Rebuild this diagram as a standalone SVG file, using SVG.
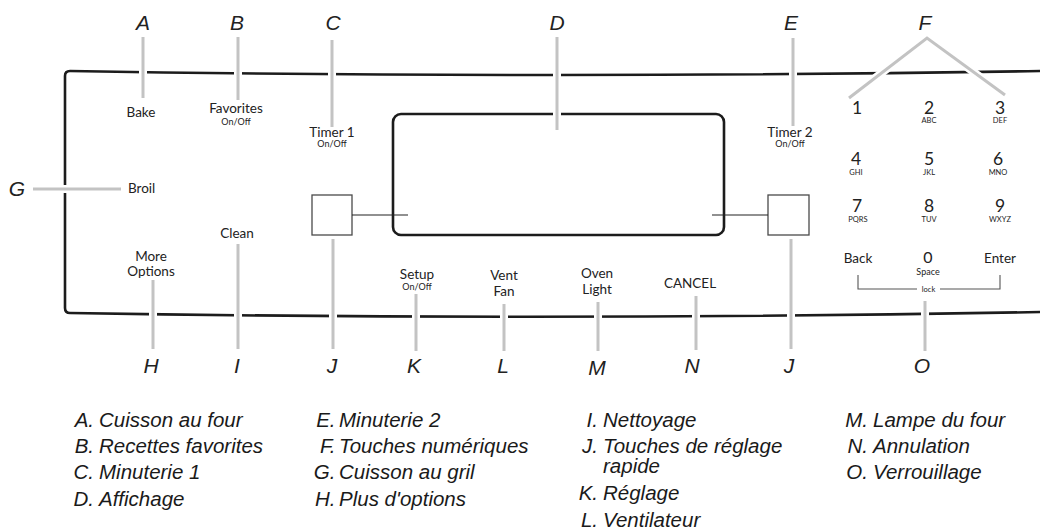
<svg xmlns="http://www.w3.org/2000/svg" width="1040" height="529" viewBox="0 0 1040 529">
<style>
.frame{fill:none;stroke:#1c1c1c;stroke-width:2.6;stroke-linejoin:round}
.sq{fill:#fff;stroke:#4a4a4a;stroke-width:1.3}
.thin{fill:none;stroke:#222;stroke-width:1.1}
.brk{fill:none;stroke:#555;stroke-width:1.1}
.halo{stroke:#fff;stroke-width:8;fill:none}
.ld{stroke:#c3c3c3;stroke-width:3;fill:none}
.lbl{font-family:"Liberation Sans",Arial,sans-serif;font-style:italic;font-size:21px;fill:#222;text-anchor:middle}
.key{font-family:Lato,"Open Sans",sans-serif;font-size:13.5px;fill:#222;text-anchor:middle}
.sub{font-size:9px}
.dig{font-size:17.5px}
.zero{font-size:16px}
.tiny{font-size:7.5px}
.leg{font-family:"Liberation Sans",Arial,sans-serif;font-style:italic;font-size:20.5px;fill:#1a1a1a}
.le{text-anchor:end}
</style>
<g id="panel">
<path class="frame" d="M1040,71 Q557,79 70,71 Q65,71 65,76 L65,308 Q65,313 70,313 Q557,321 1040,312"/>
</g>
<g id="display">
<rect class="frame" x="393" y="114" width="331" height="121" rx="8"/>
</g>
<g id="quick-left">
<rect class="sq" x="312" y="195" width="40" height="40"/>
<line class="thin" x1="352" y1="215" x2="408" y2="215"/>
</g>
<g id="quick-right">
<rect class="sq" x="768" y="195" width="41" height="40"/>
<line class="thin" x1="712" y1="215" x2="768" y2="215"/>
</g>
<g id="connectors">
<g>
<line class="halo" x1="143" y1="37" x2="143" y2="98"/>
<line class="halo" x1="238" y1="37" x2="238" y2="100"/>
<line class="halo" x1="332" y1="40" x2="332" y2="127"/>
<line class="halo" x1="557" y1="37" x2="557" y2="130"/>
<line class="halo" x1="793" y1="38" x2="793" y2="126"/>
<polyline class="halo" points="849,98 927,38 1005,95"/>
<line class="halo" x1="33" y1="189" x2="121" y2="189"/>
<line class="halo" x1="153" y1="280" x2="153" y2="349"/>
<line class="halo" x1="238" y1="244" x2="238" y2="349"/>
<line class="halo" x1="333" y1="239" x2="333" y2="349"/>
<line class="halo" x1="416" y1="294" x2="416" y2="351"/>
<line class="halo" x1="504" y1="304" x2="504" y2="351"/>
<line class="halo" x1="598" y1="302" x2="598" y2="351"/>
<line class="halo" x1="696" y1="296" x2="696" y2="350"/>
<line class="halo" x1="791" y1="239" x2="791" y2="349"/>
<line class="halo" x1="925" y1="301" x2="925" y2="351"/>
</g>
<line class="ld" x1="143" y1="37" x2="143" y2="98"/>
<line class="ld" x1="238" y1="37" x2="238" y2="100"/>
<line class="ld" x1="332" y1="40" x2="332" y2="127"/>
<line class="ld" x1="557" y1="37" x2="557" y2="130"/>
<line class="ld" x1="793" y1="38" x2="793" y2="126"/>
<polyline class="ld" points="849,98 927,38 1005,95"/>
<line class="ld" x1="33" y1="189" x2="121" y2="189"/>
<line class="ld" x1="153" y1="280" x2="153" y2="349"/>
<line class="ld" x1="238" y1="244" x2="238" y2="349"/>
<line class="ld" x1="333" y1="239" x2="333" y2="349"/>
<line class="ld" x1="416" y1="294" x2="416" y2="351"/>
<line class="ld" x1="504" y1="304" x2="504" y2="351"/>
<line class="ld" x1="598" y1="302" x2="598" y2="351"/>
<line class="ld" x1="696" y1="296" x2="696" y2="350"/>
<line class="ld" x1="791" y1="239" x2="791" y2="349"/>
<line class="ld" x1="925" y1="301" x2="925" y2="351"/>
</g>
<g id="keys">
<text class="key" x="141" y="117">Bake</text>
<text class="key" x="236" y="113">Favorites</text>
<text class="key sub" x="236" y="124.5">On/Off</text>
<text class="key" x="332" y="136.5">Timer 1</text>
<text class="key sub" x="332" y="147">On/Off</text>
<text class="key" x="790" y="136.5">Timer 2</text>
<text class="key sub" x="790" y="147">On/Off</text>
<text class="key" x="128" y="193" style="text-anchor:start">Broil</text>
<text class="key" x="237" y="238">Clean</text>
<text class="key" x="151" y="261">More</text>
<text class="key" x="151" y="276">Options</text>
<text class="key" x="417" y="279">Setup</text>
<text class="key sub" x="417" y="290">On/Off</text>
<text class="key" x="504" y="280">Vent</text>
<text class="key" x="504" y="296">Fan</text>
<text class="key" x="597" y="278">Oven</text>
<text class="key" x="597" y="294">Light</text>
<text class="key" x="690" y="288">CANCEL</text>
</g>
<g id="keypad">
<text class="key dig" x="857" y="114">1</text>
<text class="key dig" x="929" y="114">2</text>
<text class="key tiny" x="929" y="123.2">ABC</text>
<text class="key dig" x="1000" y="114">3</text>
<text class="key tiny" x="1000" y="123.2">DEF</text>
<text class="key dig" x="856" y="164.5">4</text>
<text class="key tiny" x="856" y="174.5">GHI</text>
<text class="key dig" x="929" y="164.5">5</text>
<text class="key tiny" x="929" y="174.5">JKL</text>
<text class="key dig" x="998" y="164.5">6</text>
<text class="key tiny" x="998" y="174.5">MNO</text>
<text class="key dig" x="857" y="212">7</text>
<text class="key tiny" x="858" y="222.2">PQRS</text>
<text class="key dig" x="929" y="212">8</text>
<text class="key tiny" x="929" y="222.2">TUV</text>
<text class="key dig" x="1000" y="212">9</text>
<text class="key tiny" x="1000" y="222.2">WXYZ</text>
<text class="key" x="858" y="263">Back</text>
<text class="key zero" x="928" y="263">0</text>
<text class="key sub" x="928" y="274.5">Space</text>
<text class="key" x="1000" y="263">Enter</text>
<polyline class="brk" points="858,275 858,289 917,289"/>
<polyline class="brk" points="940,289 1000,289 1000,275"/>
<text class="key tiny" x="928.5" y="291.5">lock</text>
</g>
<g id="callouts">
<text class="lbl" x="143" y="30">A</text>
<text class="lbl" x="237" y="30">B</text>
<text class="lbl" x="333" y="30">C</text>
<text class="lbl" x="557" y="30">D</text>
<text class="lbl" x="791" y="30">E</text>
<text class="lbl" x="925" y="30">F</text>
<text class="lbl" x="17" y="196">G</text>
<text class="lbl" x="151" y="373">H</text>
<text class="lbl" x="237" y="373">I</text>
<text class="lbl" x="332" y="373">J</text>
<text class="lbl" x="414" y="373">K</text>
<text class="lbl" x="503" y="373">L</text>
<text class="lbl" x="597" y="375">M</text>
<text class="lbl" x="692" y="373">N</text>
<text class="lbl" x="789" y="373">J</text>
<text class="lbl" x="922" y="373">O</text>
</g>
<g id="legend">
<text class="leg le" x="94" y="426.5">A.</text><text class="leg" x="99" y="426.5">Cuisson au four</text>
<text class="leg le" x="94" y="453">B.</text><text class="leg" x="99" y="453">Recettes favorites</text>
<text class="leg le" x="94" y="479">C.</text><text class="leg" x="99" y="479">Minuterie 1</text>
<text class="leg le" x="94" y="506">D.</text><text class="leg" x="99" y="506">Affichage</text>
<text class="leg le" x="335.5" y="426.5">E.</text><text class="leg" x="339" y="426.5">Minuterie 2</text>
<text class="leg le" x="335.5" y="453">F.</text><text class="leg" x="339" y="453">Touches numériques</text>
<text class="leg le" x="335.5" y="479">G.</text><text class="leg" x="339" y="479">Cuisson au gril</text>
<text class="leg le" x="335.5" y="506">H.</text><text class="leg" x="339" y="506">Plus d'options</text>
<text class="leg le" x="598" y="426.5">I.</text><text class="leg" x="603" y="426.5">Nettoyage</text>
<text class="leg le" x="598" y="453">J.</text><text class="leg" x="603" y="453">Touches de réglage</text>
<text class="leg" x="603" y="473">rapide</text>
<text class="leg le" x="598" y="500">K.</text><text class="leg" x="603" y="500">Réglage</text>
<text class="leg le" x="598" y="526.5">L.</text><text class="leg" x="603" y="526.5">Ventilateur</text>
<text class="leg le" x="868" y="426.5">M.</text><text class="leg" x="873" y="426.5">Lampe du four</text>
<text class="leg le" x="868" y="453">N.</text><text class="leg" x="873" y="453">Annulation</text>
<text class="leg le" x="868" y="479">O.</text><text class="leg" x="873" y="479">Verrouillage</text>
</g>
</svg>
